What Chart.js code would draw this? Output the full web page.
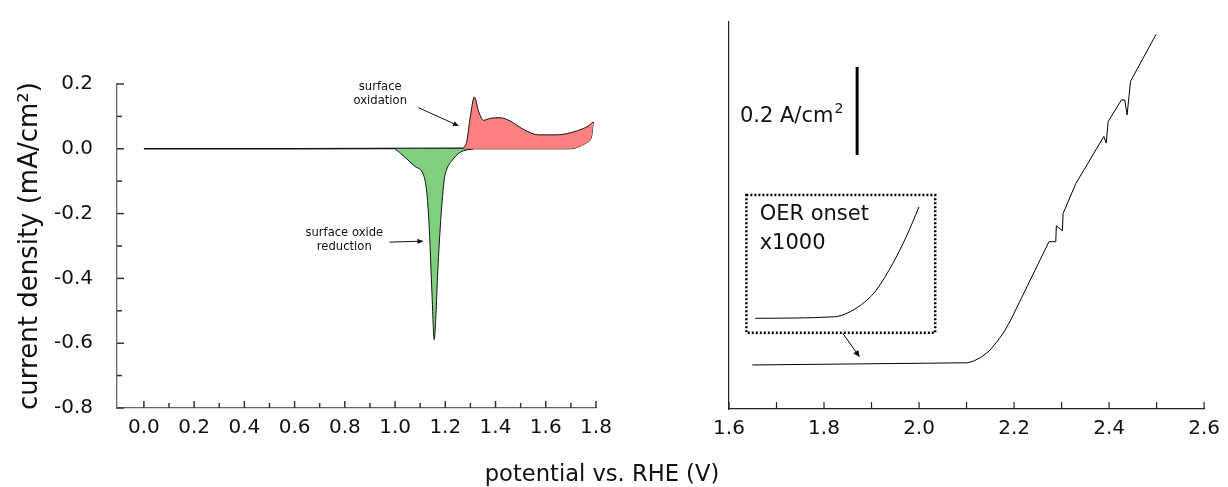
<!DOCTYPE html>
<html>
<head>
<meta charset="utf-8">
<script src="https://cdn.jsdelivr.net/npm/chart.js@4.4.1/dist/chart.umd.min.js"></script>
<style>
  body { margin: 0; background: #fff; }
  #wrap { position: relative; width: 1228px; height: 487px; overflow: hidden; font-family: "DejaVu Sans", Verdana, sans-serif; }
  #leftBox { position: absolute; left: 0; top: 0; width: 620px; height: 487px; }
  #rightBox { position: absolute; left: 620px; top: 0; width: 608px; height: 487px; }
  #xTitle { position: absolute; left: 0; width: 1204px; top: 462px; text-align: center; font-size: 22.6px; line-height: 22px; color: #111; }
</style>
</head>
<body>
<div id="wrap">
  <div id="leftBox"><canvas id="cvChart" width="620" height="487"></canvas></div>
  <div id="rightBox"><canvas id="oerChart" width="608" height="487"></canvas></div>
  <div id="xTitle">potential vs. RHE (V)</div>
</div>
<script>
// 坐标范围
const cvXRange = [-0.107, 1.8];
const cvYRange = [-0.8, 0.2];
const oerXRange = [1.6, 2.6];
const oerYRange = [-0.102, 0.777];

// 循环伏安曲线 (mA/cm²)
const cvBaseline = [
    {x: 0.0, y: 0}, {x: 0.6, y: 0}, {x: 1.273, y: 0.002}
];
const oxidationUpper = [
    {x: 1.273, y: 0.002}, {x: 1.286, y: 0.025}, {x: 1.299, y: 0.096}, {x: 1.316, y: 0.16},
    {x: 1.332, y: 0.117}, {x: 1.352, y: 0.088}, {x: 1.379, y: 0.094}, {x: 1.418, y: 0.096},
    {x: 1.458, y: 0.086}, {x: 1.511, y: 0.06}, {x: 1.571, y: 0.043}, {x: 1.644, y: 0.043},
    {x: 1.723, y: 0.055}, {x: 1.77, y: 0.071}, {x: 1.789, y: 0.083}
];
const oxidationLower = [
    {x: 1.273, y: 0}, {x: 1.697, y: 0}, {x: 1.73, y: 0.006}, {x: 1.763, y: 0.019},
    {x: 1.783, y: 0.04}, {x: 1.789, y: 0.083}
];
const reductionPeak = [
    {x: 1.0, y: 0}, {x: 1.034, y: -0.022}, {x: 1.08, y: -0.055}, {x: 1.113, y: -0.08},
    {x: 1.127, y: -0.14}, {x: 1.136, y: -0.242}, {x: 1.147, y: -0.447}, {x: 1.156, y: -0.589},
    {x: 1.163, y: -0.509}, {x: 1.169, y: -0.396}, {x: 1.18, y: -0.242}, {x: 1.195, y: -0.1},
    {x: 1.205, y: -0.065}, {x: 1.226, y: -0.037}, {x: 1.259, y: -0.011}, {x: 1.312, y: 0}
];

// OER 极化曲线 (A/cm²)
const oerCurve = [
    {x: 1.649, y: -0.002}, {x: 2.102, y: 0.003}, {x: 2.115, y: 0.007}, {x: 2.13, y: 0.015},
    {x: 2.148, y: 0.03}, {x: 2.165, y: 0.052}, {x: 2.18, y: 0.075}, {x: 2.193, y: 0.1},
    {x: 2.2735, y: 0.278}, {x: 2.2878, y: 0.278},
    {x: 2.289, y: 0.314}, {x: 2.3017, y: 0.303}, {x: 2.3032, y: 0.342}, {x: 2.33, y: 0.41},
    {x: 2.389, y: 0.517}, {x: 2.394, y: 0.502}, {x: 2.398, y: 0.551}, {x: 2.426, y: 0.6},
    {x: 2.433, y: 0.6}, {x: 2.438, y: 0.566}, {x: 2.445, y: 0.642}, {x: 2.499, y: 0.749}
];
// 起始段放大 x1000 (画在插图框里)
const oerInset = [
    {x: 1.655, y: 0.104}, {x: 1.822, y: 0.1075}, {x: 1.845, y: 0.114}, {x: 1.868, y: 0.127},
    {x: 1.89, y: 0.145}, {x: 1.91, y: 0.168}, {x: 1.945, y: 0.229}, {x: 1.973, y: 0.289},
    {x: 2.0, y: 0.357}
];

// 注释 (数据坐标)
const cvNotes = [
    {lines: ['surface', 'oxidation'], x: 0.941, y: 0.191, arrow: [1.093, 0.127, 1.2525, 0.071]},
    {lines: ['surface oxide', 'reduction'], x: 0.798, y: -0.261, arrow: [0.978, -0.288, 1.111, -0.285]}
];
const scaleBar = {x: 1.8697, from: 0.475, to: 0.675, label: ['0.2 A/cm', '2'], labelX: 1.8406, labelY: 0.568};
const insetBox = {x0: 1.6366, x1: 2.034, y0: 0.071, y1: 0.384, lines: ['OER onset', 'x1000'], textX: 1.6645, textY: [0.340, 0.273]};
const insetArrow = [1.8395, 0.0698, 1.8746, 0.0166];

const FONT = '"DejaVu Sans", Verdana, sans-serif';
const RED = '#ff8080';
const GREEN = '#80d080';

// 刻度标签：每 0.1 一个刻度，每 0.2 一个数字
function tenthLabel(v) {
    const k = Math.round(v * 10);
    if (Math.abs(v * 10 - k) > 1e-6) return null;
    return Math.abs(k) % 2 === 0 ? (k / 10).toFixed(1) : '';
}

function isMajor(v) {
    return Math.abs(Math.round(v * 10)) % 2 === 0;
}

// 向内画刻度线
const innerTicks = {
    id: 'innerTicks',
    afterDraw(chart, args, opts) {
        const ctx = chart.ctx;
        const {x, y} = chart.scales;
        ctx.save();
        ctx.strokeStyle = opts.color;
        ctx.lineWidth = opts.width;
        x.ticks.forEach(t => {
            if (t.value < -1e-9) return;
            const px = x.getPixelForValue(t.value);
            const len = isMajor(t.value) ? opts.major : opts.minor;
            ctx.beginPath();
            ctx.moveTo(px, x.top);
            ctx.lineTo(px, x.top - len);
            ctx.stroke();
        });
        if (opts.yTicks) {
            y.ticks.forEach(t => {
                const py = y.getPixelForValue(t.value);
                const len = isMajor(t.value) ? opts.major : opts.minor;
                ctx.beginPath();
                ctx.moveTo(y.right, py);
                ctx.lineTo(y.right + len, py);
                ctx.stroke();
            });
        }
        ctx.restore();
    }
};

function drawArrow(ctx, x1, y1, x2, y2, head) {
    const a = Math.atan2(y2 - y1, x2 - x1);
    ctx.beginPath();
    ctx.moveTo(x1, y1);
    ctx.lineTo(x2, y2);
    ctx.stroke();
    ctx.beginPath();
    ctx.moveTo(x2, y2);
    ctx.lineTo(x2 - head * Math.cos(a - 0.45), y2 - head * Math.sin(a - 0.45));
    ctx.lineTo(x2 - head * Math.cos(a + 0.45), y2 - head * Math.sin(a + 0.45));
    ctx.closePath();
    ctx.fill();
}

// 左图注释
const cvAnnotations = {
    id: 'cvAnnotations',
    afterDatasetsDraw(chart) {
        const ctx = chart.ctx;
        const {x, y} = chart.scales;
        ctx.save();
        ctx.fillStyle = '#111';
        ctx.strokeStyle = '#111';
        ctx.lineWidth = 1;
        ctx.font = '11.6px ' + FONT;
        ctx.textAlign = 'center';
        ctx.textBaseline = 'middle';
        cvNotes.forEach(n => {
            n.lines.forEach((s, i) => ctx.fillText(s, x.getPixelForValue(n.x), y.getPixelForValue(n.y) + i * 14));
            const [x1, y1, x2, y2] = n.arrow;
            drawArrow(ctx, x.getPixelForValue(x1), y.getPixelForValue(y1), x.getPixelForValue(x2), y.getPixelForValue(y2), 6);
        });
        ctx.restore();
    }
};

// 右图注释：比例尺、插图框、箭头
const oerAnnotations = {
    id: 'oerAnnotations',
    afterDatasetsDraw(chart) {
        const ctx = chart.ctx;
        const {x, y} = chart.scales;
        ctx.save();
        ctx.strokeStyle = '#000';
        ctx.fillStyle = '#111';

        ctx.lineWidth = 3;
        ctx.beginPath();
        ctx.moveTo(x.getPixelForValue(scaleBar.x), y.getPixelForValue(scaleBar.from));
        ctx.lineTo(x.getPixelForValue(scaleBar.x), y.getPixelForValue(scaleBar.to));
        ctx.stroke();

        // 标签 + 上标 2
        const lx = x.getPixelForValue(scaleBar.labelX), ly = y.getPixelForValue(scaleBar.labelY);
        ctx.textBaseline = 'alphabetic';
        ctx.textAlign = 'right';
        ctx.font = '14px ' + FONT;
        ctx.fillText(scaleBar.label[1], lx, ly - 1);
        const supW = ctx.measureText(scaleBar.label[1]).width;
        ctx.font = '21px ' + FONT;
        ctx.fillText(scaleBar.label[0], lx - supW - 1, ly + 7.5);

        const bx0 = x.getPixelForValue(insetBox.x0), bx1 = x.getPixelForValue(insetBox.x1);
        const by0 = y.getPixelForValue(insetBox.y0), by1 = y.getPixelForValue(insetBox.y1);
        ctx.lineWidth = 2.5;
        ctx.setLineDash([2, 2]);
        ctx.strokeRect(bx0, by1, bx1 - bx0, by0 - by1);
        ctx.setLineDash([]);

        ctx.textAlign = 'left';
        ctx.textBaseline = 'middle';
        insetBox.lines.forEach((s, i) => ctx.fillText(s, x.getPixelForValue(insetBox.textX), y.getPixelForValue(insetBox.textY[i])));

        ctx.lineWidth = 1;
        ctx.fillStyle = '#000';
        const [x1, y1, x2, y2] = insetArrow;
        drawArrow(ctx, x.getPixelForValue(x1), y.getPixelForValue(y1), x.getPixelForValue(x2), y.getPixelForValue(y2), 7);
        ctx.restore();
    }
};

function lineSet(data, extra) {
    return Object.assign({
        data: data,
        borderColor: '#111',
        borderWidth: 1,
        pointRadius: 0,
        fill: false,
        tension: 0
    }, extra || {});
}

function drawCvChart() {
    const ctx = document.getElementById('cvChart').getContext('2d');
    new Chart(ctx, {
        type: 'line',
        data: {
            datasets: [
                lineSet(oxidationUpper, {fill: '+1', backgroundColor: RED, cubicInterpolationMode: 'monotone'}),
                lineSet(oxidationLower, {cubicInterpolationMode: 'monotone'}),
                lineSet(reductionPeak, {fill: 'origin', backgroundColor: GREEN, cubicInterpolationMode: 'monotone'}),
                lineSet(cvBaseline, {borderWidth: 1.5})
            ]
        },
        options: {
            responsive: false,
            animation: false,
            devicePixelRatio: 1,
            layout: {padding: {top: 84, right: 24, bottom: 39, left: 0}},
            plugins: {
                legend: {display: false},
                tooltip: {enabled: false},
                innerTicks: {color: '#333', width: 1.5, major: 7, minor: 5, yTicks: true}
            },
            scales: {
                x: {
                    type: 'linear',
                    min: cvXRange[0],
                    max: cvXRange[1],
                    grid: {display: false, drawTicks: false},
                    border: {display: true, color: '#666', width: 1.3},
                    ticks: {
                        stepSize: 0.1,
                        autoSkip: false,
                        maxRotation: 0,
                        minRotation: 0,
                        padding: 8,
                        color: '#111',
                        font: {family: FONT, size: 20},
                        callback: tenthLabel
                    },
                    afterFit: s => { s.height = 40; }
                },
                y: {
                    type: 'linear',
                    min: cvYRange[0],
                    max: cvYRange[1],
                    grid: {display: false, drawTicks: false},
                    border: {display: true, color: '#666', width: 1.3},
                    ticks: {
                        stepSize: 0.1,
                        autoSkip: false,
                        padding: 24,
                        color: '#111',
                        font: {family: FONT, size: 20},
                        callback: tenthLabel
                    },
                    title: {
                        display: true,
                        text: 'current density (mA/cm²)',
                        color: '#111',
                        font: {family: FONT, size: 26},
                        padding: {top: 15, bottom: 0}
                    },
                    afterFit: s => { s.width = 117; }
                }
            }
        },
        plugins: [innerTicks, cvAnnotations]
    });
}

function drawOerChart() {
    const ctx = document.getElementById('oerChart').getContext('2d');
    new Chart(ctx, {
        type: 'line',
        data: {
            datasets: [
                lineSet(oerCurve, {borderColor: '#000'}),
                lineSet(oerInset, {borderColor: '#000', cubicInterpolationMode: 'monotone'})
            ]
        },
        options: {
            responsive: false,
            animation: false,
            devicePixelRatio: 1,
            layout: {padding: {top: 22, right: 23, bottom: 38, left: 0}},
            plugins: {
                legend: {display: false},
                tooltip: {enabled: false},
                innerTicks: {color: '#222', width: 1.2, major: 7, minor: 7, yTicks: false}
            },
            scales: {
                x: {
                    type: 'linear',
                    min: oerXRange[0],
                    max: oerXRange[1],
                    grid: {display: false, drawTicks: false},
                    border: {display: true, color: '#222', width: 1.3},
                    ticks: {
                        stepSize: 0.1,
                        autoSkip: false,
                        maxRotation: 0,
                        minRotation: 0,
                        padding: 8,
                        color: '#111',
                        font: {family: FONT, size: 20},
                        callback: tenthLabel
                    },
                    afterFit: s => { s.height = 40; }
                },
                y: {
                    type: 'linear',
                    min: oerYRange[0],
                    max: oerYRange[1],
                    grid: {display: false, drawTicks: false},
                    border: {display: true, color: '#222', width: 1.2},
                    ticks: {display: false},
                    afterFit: s => { s.width = 109; }
                }
            }
        },
        plugins: [innerTicks, oerAnnotations]
    });
}

document.addEventListener('DOMContentLoaded', () => {
    drawCvChart();
    drawOerChart();
});
</script>
</body>
</html>
